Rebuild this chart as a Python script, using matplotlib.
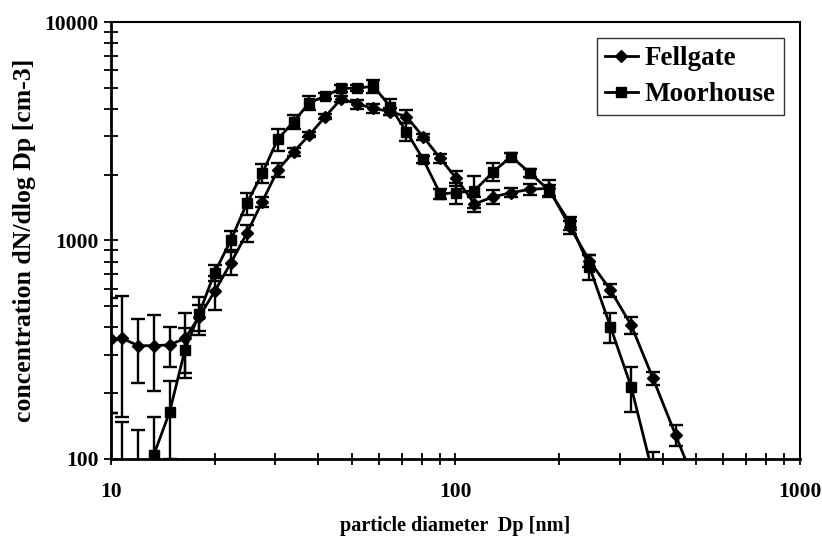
import numpy as np
import matplotlib
matplotlib.use("Agg")
import matplotlib.pyplot as plt
from matplotlib.ticker import LogLocator, NullFormatter, FixedFormatter, FixedLocator

plt.rcParams['font.family'] = ['Liberation Serif', 'DejaVu Serif']
plt.rcParams['font.weight'] = 'bold'

# particle diameter channels [nm]
diameter = [10.0, 10.8, 12.0, 13.3, 14.8, 16.4, 18.0, 20.0, 22.3, 24.8,
            27.5, 30.5, 33.9, 37.7, 41.9, 46.6, 51.9, 57.8, 64.7, 72.1,
            80.6, 90.4, 100.5, 113.6, 128.9, 145.2, 164.5, 186.6, 215.4, 245,
            282, 323.8, 374.7, 435.7, 505]

# Fellgate dN/dlogDp and error
fellgate = [353, 356, 330, 330, 333, 356, 445, 585, 791, 1079,
            1506, 2102, 2546, 3043, 3689, 4450, 4217, 4029, 3890, 3689,
            2985, 2377, 1928, 1470, 1585, 1655, 1715, 1733, 1150, 808,
            593, 410, 234, 129, 72]
fellgate_err = [190, 200, 108, 126, 68, 108, 60, 105, 95, 95,
                80, 150, 100, 80, 100, 150, 200, 180, 150, 250,
                100, 120, 150, 115, 120, 80, 100, 150, 80, 50,
                40, 35, 17, 14, 10]

# Moorhouse dN/dlogDp and error
moorhouse = [60, 55, 50, 104, 164, 316, 460, 713, 1005, 1479,
             2030, 2905, 3500, 4275, 4580, 4975, 4975, 5090, 4093, 3150,
             2355, 1634, 1655, 1692, 2065, 2421, 2040, 1702, 1200, 759,
             403, 214, 85, 35, 15]
moorhouse_err = [102, 93, 86, 52, 64, 80, 90, 60, 100, 170,
                 200, 340, 250, 300, 150, 200, 150, 350, 350, 300,
                 80, 80, 180, 280, 200, 100, 80, 100, 80, 100,
                 65, 50, 23, 10, 5]

fig = plt.figure(figsize=(8.22, 5.37), dpi=100)
ax = fig.add_axes([0.135, 0.1453, 0.838, 0.8137])

ax.set_xscale('log')
ax.set_yscale('log')

# error bars
ax.errorbar(diameter, fellgate, yerr=fellgate_err, fmt='none', ecolor='black',
            elinewidth=1.7, capsize=5, capthick=1.7)
ax.errorbar(diameter, moorhouse, yerr=moorhouse_err, fmt='none', ecolor='black',
            elinewidth=1.7, capsize=5, capthick=1.7)

# lines and markers
ax.plot(diameter, fellgate, color='black', lw=2.0, marker='D', ms=6, label='Fellgate')
ax.plot(diameter, moorhouse, color='black', lw=2.0, marker='s', ms=7.5, label='Moorhouse')

ax.set_xlim(10, 1000)
ax.set_ylim(100, 10000)

ax.xaxis.set_major_locator(FixedLocator([10, 100, 1000]))
ax.xaxis.set_major_formatter(FixedFormatter(['10', '100', '1000']))
ax.xaxis.set_minor_locator(LogLocator(base=10, subs=np.arange(2, 10)))
ax.xaxis.set_minor_formatter(NullFormatter())
ax.yaxis.set_major_locator(FixedLocator([100, 1000, 10000]))
ax.yaxis.set_major_formatter(FixedFormatter(['100', '1000', '10000']))
ax.yaxis.set_minor_locator(LogLocator(base=10, subs=np.arange(2, 10)))
ax.yaxis.set_minor_formatter(NullFormatter())

ax.tick_params(axis='both', which='both', direction='inout', top=False, right=False,
               width=1.3, labelsize=15.5)
ax.tick_params(axis='x', which='both', length=9, pad=12)
ax.tick_params(axis='y', which='both', length=10, pad=4)

for side in ['left', 'bottom']:
    ax.spines[side].set_linewidth(2.0)
for side in ['top', 'right']:
    ax.spines[side].set_linewidth(1.5)

ax.set_xlabel('particle diameter  Dp [nm]', fontsize=14.5, fontweight='bold', labelpad=10)
ax.set_ylabel('concentration dN/dlog Dp [cm-3]', fontsize=18.5, fontweight='bold', labelpad=6)

leg = ax.legend(loc='upper right', fontsize=19.5, frameon=True, fancybox=False,
                edgecolor='black', handlelength=1.2, handletextpad=0.25,
                borderpad=0.3, labelspacing=0.4, borderaxespad=0.6)
leg.get_frame().set_linewidth(1.0)

fig.savefig('out.png', dpi=100)
